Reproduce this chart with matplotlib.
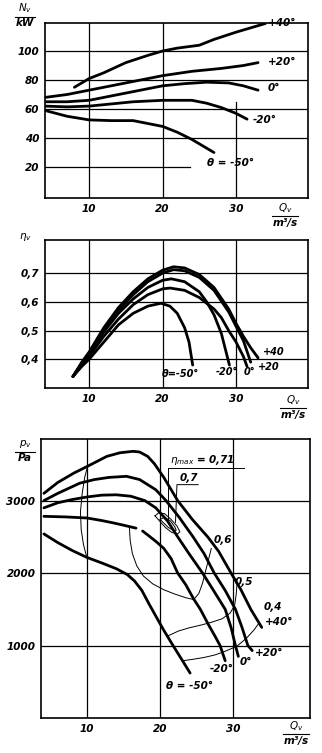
import matplotlib
matplotlib.use("Agg")
import matplotlib.pyplot as plt
from matplotlib.lines import Line2D

# --- power N_v [kW] against flow Q [m3/s] for each blade angle ---
pw_q_p40 = [8.0, 10, 12, 15, 18, 20, 22, 25, 27, 30, 32, 34]
pw_p40 = [75, 81, 85, 92, 97, 100, 102, 104, 108, 113, 116, 119]
pw_q_p20 = [4, 7, 10, 13, 16, 20, 24, 28, 31, 33]
pw_p20 = [68, 70, 73, 76, 79, 83, 86, 88, 90, 92]
pw_q_0 = [4, 7, 10, 13, 16, 20, 23, 26, 29, 31, 33]
pw_0 = [65, 65, 66, 69, 72, 76, 77.5, 78.5, 78, 76, 73]
pw_q_m20 = [4, 7, 10, 13, 16, 20, 24, 26, 28, 30, 31.5]
pw_m20 = [62, 61.5, 62, 63.5, 65, 66, 66, 64, 61, 57, 53]
pw_q_m50 = [4, 7, 10, 13, 16, 18, 20, 22, 24, 26, 27]
pw_m50 = [59, 55, 52.5, 52, 52, 50, 48, 44, 39, 33, 30]

# --- efficiency eta_v against flow ---
ef_q_p40 = [7.8, 9, 10, 12, 14, 16, 18, 20, 21.5, 23, 25, 27, 29, 30, 31, 32, 33]
ef_p40 = [0.34, 0.39, 0.425, 0.51, 0.58, 0.635, 0.68, 0.71, 0.722, 0.718, 0.695,
          0.65, 0.575, 0.525, 0.48, 0.44, 0.405]
ef_q_p20 = [7.8, 9, 10, 12, 14, 16, 18, 20, 21.5, 23, 25, 27, 29, 30, 31, 32]
ef_p20 = [0.34, 0.385, 0.42, 0.5, 0.57, 0.625, 0.67, 0.70, 0.712, 0.708, 0.685,
          0.64, 0.565, 0.515, 0.465, 0.39]
ef_q_0 = [7.8, 9, 10, 12, 14, 16, 18, 20, 21, 23, 25, 27, 28, 29, 30, 31, 31.5]
ef_0 = [0.34, 0.38, 0.41, 0.48, 0.54, 0.59, 0.625, 0.645, 0.648, 0.64, 0.615,
        0.575, 0.545, 0.5, 0.46, 0.41, 0.375]
ef_q_m20 = [7.8, 9, 10, 12, 14, 16, 18, 20, 21.2, 23, 25, 26, 27, 28, 29.1]
ef_m20 = [0.34, 0.385, 0.42, 0.495, 0.56, 0.61, 0.65, 0.675, 0.68, 0.67, 0.635,
          0.6, 0.555, 0.49, 0.38]
ef_q_m50 = [7.8, 9, 10, 12, 14, 16, 18, 19.8, 21, 22, 23, 23.6, 24.1]
ef_m50 = [0.34, 0.375, 0.4, 0.46, 0.52, 0.56, 0.585, 0.595, 0.585, 0.56, 0.51,
          0.46, 0.38]

# --- pressure p_v [Pa] against flow ---
pr_q_p40 = [4.1, 6, 8.2, 10, 12.7, 14.5, 16.3, 17.2, 18.3, 19.2, 20.5, 22.4,
            24.4, 26.5, 28, 29.7, 31, 32.4, 33.3, 33.9]
pr_p40 = [3100, 3250, 3380, 3470, 3610, 3660, 3680, 3670, 3610, 3510, 3320, 3000,
          2740, 2500, 2300, 2000, 1780, 1500, 1350, 1250]
pr_q_p20 = [4.1, 6, 9, 11, 13, 15.4, 17.2, 19.4, 20.8, 22.6, 24.5, 26, 27.4,
            28.9, 30.3, 31.2, 32, 32.6]
pr_p20 = [3000, 3100, 3240, 3290, 3320, 3335, 3290, 3150, 3000, 2770, 2500, 2270,
          2000, 1760, 1500, 1250, 1000, 930]
pr_q_0 = [4.1, 6, 8, 10, 12, 14, 16, 17.9, 19.4, 21, 22.4, 24, 25.8, 27.3, 28.9,
          29.7, 30.3, 30.7]
pr_0 = [2900, 2970, 3015, 3050, 3075, 3080, 3060, 3000, 2900, 2720, 2500, 2260,
        2000, 1760, 1500, 1250, 1000, 850]
pr_q_m20a = [4.1, 7, 10, 12, 13.6, 15, 16.7]
pr_m20a = [2783, 2775, 2760, 2725, 2692, 2660, 2620]
pr_q_m20b = [17.6, 18.5, 19.5, 20.5, 21.5, 22.4, 23.5, 24.6, 25.5, 26.6, 27.5,
             28.2, 28.9]
pr_m20b = [2580, 2510, 2430, 2340, 2200, 2000, 1840, 1640, 1500, 1290, 1130,
           1000, 790]
pr_q_m50 = [4.1, 6, 8, 10, 12, 14, 15.5, 16.5, 17.5, 18.5, 19.5, 20.5, 21.7, 23,
            24.1]
pr_m50 = [2540, 2420, 2310, 2215, 2140, 2060, 1980, 1890, 1760, 1570, 1390, 1210,
          1010, 800, 620]

# efficiency iso-lines in the pressure field
iso_071_q = [20.0, 20.6, 21.4, 22.0, 22.2, 21.8, 21.1, 20.4, 20.0]
iso_071_p = [2740, 2770, 2720, 2640, 2590, 2590, 2630, 2700, 2740]
iso_07_q = [19.3, 19.8, 20.6, 21.5, 22.3, 22.7, 22.4, 21.6, 20.7, 19.9, 19.3]
iso_07_p = [2790, 2830, 2820, 2740, 2650, 2570, 2540, 2560, 2630, 2720, 2790]
iso_06_q = [15.8, 15.9, 16.2, 16.8, 17.7, 19, 20.5, 22, 23.5, 24.6, 25.3, 25.8,
            26.2, 26.6, 27.0]
iso_06_p = [2620, 2450, 2270, 2100, 1960, 1850, 1770, 1710, 1660, 1634, 1720,
            1860, 2020, 2180, 2340]
iso_06l_q = [10.1, 9.7, 9.35, 9.1, 9.2, 9.5, 9.8, 10.0]
iso_06l_p = [3480, 3330, 3110, 2850, 2600, 2400, 2280, 2210]
iso_05_q = [21.0, 22.5, 24, 25.5, 27, 28.5, 29.6, 30.2, 30.4, 30.5]
iso_05_p = [1130, 1200, 1245, 1280, 1320, 1370, 1450, 1560, 1700, 1830]
iso_04_q = [23.1, 24.5, 26, 27.5, 29, 30.5, 31.8, 32.8, 33.6]
iso_04_p = [790, 810, 835, 870, 925, 990, 1100, 1210, 1320]

x_ticks = [10, 20, 30]
pw_ticks = [20, 40, 60, 80, 100]
ef_ticks = [0.4, 0.5, 0.6, 0.7]
ef_tick_labels = ["0,4", "0,5", "0,6", "0,7"]
pr_ticks = [1000, 2000, 3000]

TXT = dict(fontstyle="italic", fontweight="bold", family="DejaVu Sans",
           fontsize=7.5, color="k")
SMALL = dict(TXT, fontsize=7)
THICK = 2.0
THIN = 0.7

fig = plt.figure(figsize=(3.22, 7.53), dpi=100)


def style_axes(ax):
    for s in ax.spines.values():
        s.set_linewidth(1.2)
    ax.tick_params(length=0, pad=4)
    for lab in ax.get_xticklabels() + ax.get_yticklabels():
        lab.set_fontstyle("italic")
        lab.set_fontweight("bold")
        lab.set_fontsize(7.5)


def frac_label(x, y, top, bottom, w=0.07):
    fig.text(x, y + 0.002, top, ha="center", va="bottom", **TXT)
    fig.text(x, y - 0.002, bottom, ha="center", va="top", **TXT)
    fig.add_artist(Line2D([x - w / 2, x + w / 2], [y, y],
                          transform=fig.transFigure, color="k", lw=0.8))


# ---------------- power ----------------
ax1 = fig.add_axes([0.1398, 0.737, 0.8168, 0.2324])
ax1.set_xlim(4, 39.8)
ax1.set_ylim(-1.4, 119.3)
ax1.set_xticks(x_ticks)
ax1.set_yticks(pw_ticks)
for v in x_ticks[:2]:
    ax1.axvline(v, color="k", lw=0.9)
ax1.axvline(30, ymax=0.55, color="k", lw=0.9)
for v in pw_ticks[1:]:
    ax1.axhline(v, color="k", lw=0.9)
ax1.axhline(20, xmax=0.55, color="k", lw=0.9)
for q, n in [(pw_q_p40, pw_p40), (pw_q_p20, pw_p20), (pw_q_0, pw_0),
             (pw_q_m20, pw_m20), (pw_q_m50, pw_m50)]:
    ax1.plot(q, n, color="k", lw=THICK, solid_capstyle="round")
ax1.text(34.3, 119, "+40°", va="center", **TXT)
ax1.text(34.3, 92.5, "+20°", va="center", **TXT)
ax1.text(34.3, 74.5, "0°", va="center", **TXT)
ax1.text(32.3, 52.5, "-20°", va="center", **TXT)
ax1.text(26.0, 23, "θ = -50°", va="center", **TXT)
style_axes(ax1)
frac_label(0.078, 0.978, r"$N_v$", "kW", w=0.06)
frac_label(0.885, 0.713, r"$Q_v$", "m³/s", w=0.08)

# ---------------- efficiency ----------------
ax2 = fig.add_axes([0.1398, 0.4847, 0.8168, 0.1965])
ax2.set_xlim(4, 39.8)
ax2.set_ylim(0.3, 0.815)
ax2.set_xticks(x_ticks)
ax2.set_yticks(ef_ticks)
ax2.set_yticklabels(ef_tick_labels)
ax2.grid(True, color="k", lw=0.9)
ax2.set_axisbelow(True)
for q, e in [(ef_q_p40, ef_p40), (ef_q_p20, ef_p20), (ef_q_0, ef_0),
             (ef_q_m20, ef_m20), (ef_q_m50, ef_m50)]:
    ax2.plot(q, e, color="k", lw=THICK, solid_capstyle="round")
ax2.text(33.6, 0.425, "+40", va="center", **SMALL)
ax2.text(33.0, 0.373, "+20", va="center", **SMALL)
ax2.text(31.0, 0.355, "0°", va="center", **SMALL)
ax2.text(27.2, 0.355, "-20°", va="center", **SMALL)
ax2.text(19.9, 0.35, "θ=-50°", va="center", **SMALL)
style_axes(ax2)
fig.text(0.078, 0.685, r"$\eta_v$", ha="center", va="center", **TXT)
frac_label(0.91, 0.458, r"$Q_v$", "m³/s", w=0.08)

# ---------------- pressure ----------------
ax3 = fig.add_axes([0.1273, 0.0465, 0.8354, 0.3705])
ax3.set_xlim(3.7, 40.5)
ax3.set_ylim(0, 3850)
ax3.set_xticks(x_ticks)
ax3.set_yticks(pr_ticks)
ax3.grid(True, color="k", lw=0.9)
ax3.set_axisbelow(True)
for q, p in [(pr_q_p40, pr_p40), (pr_q_p20, pr_p20), (pr_q_0, pr_0),
             (pr_q_m20a, pr_m20a), (pr_q_m20b, pr_m20b), (pr_q_m50, pr_m50)]:
    ax3.plot(q, p, color="k", lw=THICK, solid_capstyle="round")
for q, p in [(iso_071_q, iso_071_p), (iso_07_q, iso_07_p), (iso_06_q, iso_06_p),
             (iso_06l_q, iso_06l_p), (iso_05_q, iso_05_p), (iso_04_q, iso_04_p)]:
    ax3.plot(q, p, color="k", lw=THIN)
# leader lines to the efficiency labels
ax3.plot([21.1, 21.1, 31.5], [2740, 3450, 3450], color="k", lw=THIN)
ax3.plot([22.1, 22.3, 25.2], [2700, 3220, 3220], color="k", lw=THIN)
ax3.text(21.4, 3470, r"$\eta_{max}$ = 0,71", va="bottom", **TXT)
ax3.text(22.6, 3240, "0,7", va="bottom", **TXT)
ax3.text(27.3, 2460, "0,6", va="center", **TXT)
ax3.text(30.2, 1870, "0,5", va="center", **TXT)
ax3.text(34.1, 1530, "0,4", va="center", **TXT)
ax3.text(34.3, 1330, "+40°", va="center", **TXT)
ax3.text(32.9, 900, "+20°", va="center", **TXT)
ax3.text(30.9, 770, "0°", va="center", **TXT)
ax3.text(26.8, 670, "-20°", va="center", **TXT)
ax3.text(20.8, 440, "θ = -50°", va="center", **TXT)
style_axes(ax3)
frac_label(0.078, 0.4, r"$p_v$", "Pa", w=0.06)
frac_label(0.92, 0.025, r"$Q_v$", "m³/s", w=0.08)

fig.savefig("out.png", dpi=100)
